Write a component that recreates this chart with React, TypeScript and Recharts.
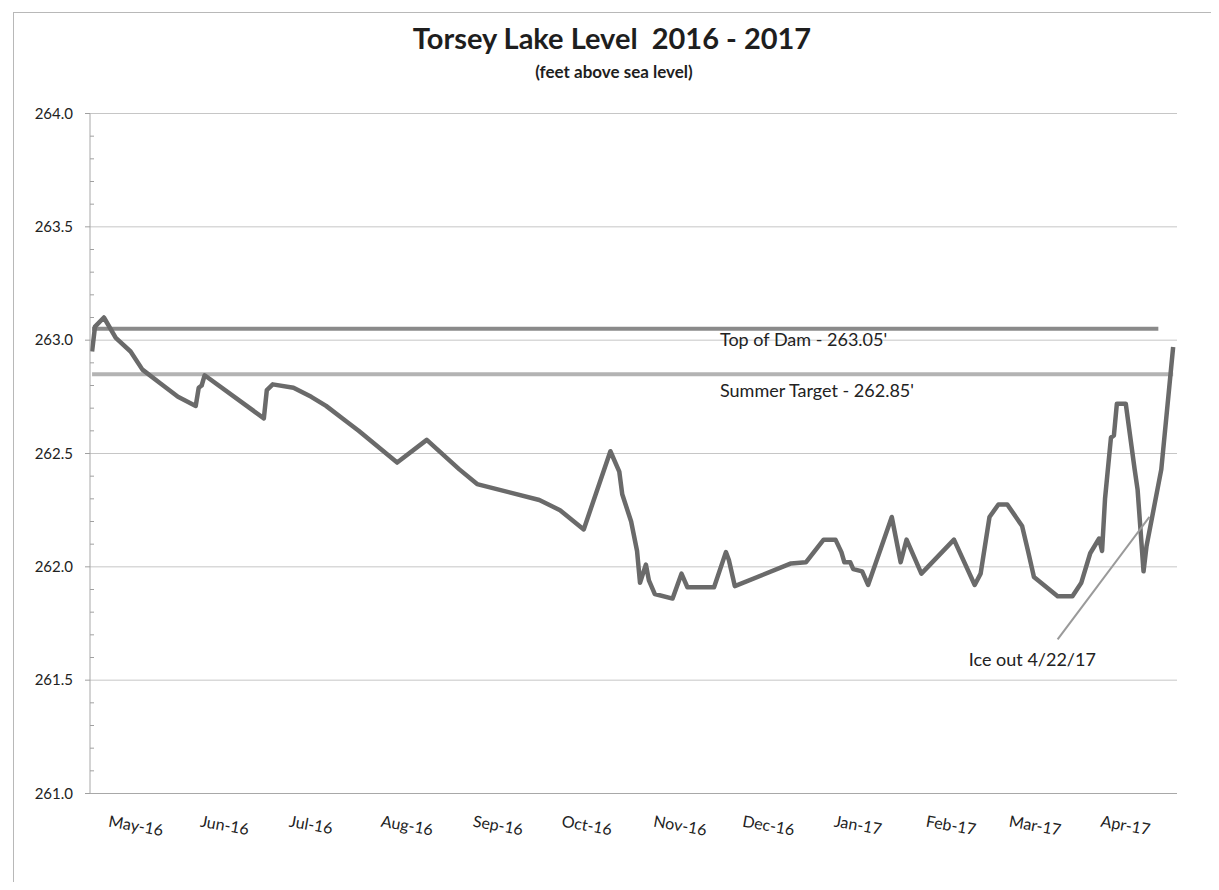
import React from 'react';
import {
  LineChart,
  Line,
  XAxis,
  YAxis,
  CartesianGrid,
  ReferenceLine,
  ReferenceDot,
} from 'recharts';

// Lake level readings (feet above sea level)
const levelDates = [
  '2016-04-25', '2016-04-26', '2016-04-29', '2016-05-03', '2016-05-08', '2016-05-12',
  '2016-05-18', '2016-05-24', '2016-05-30', '2016-05-31', '2016-06-01', '2016-06-02',
  '2016-06-22', '2016-06-23', '2016-06-25', '2016-07-02', '2016-07-08', '2016-07-13',
  '2016-07-20', '2016-07-24', '2016-08-06', '2016-08-16', '2016-08-27', '2016-09-02',
  '2016-09-23', '2016-09-30', '2016-10-08', '2016-10-17', '2016-10-20', '2016-10-21',
  '2016-10-24', '2016-10-26', '2016-10-27', '2016-10-29', '2016-10-30', '2016-11-01',
  '2016-11-07', '2016-11-10', '2016-11-12', '2016-11-21', '2016-11-25', '2016-11-26',
  '2016-11-28', '2016-12-17', '2016-12-22', '2016-12-28', '2017-01-01', '2017-01-03',
  '2017-01-04', '2017-01-06', '2017-01-07', '2017-01-10', '2017-01-12', '2017-01-20',
  '2017-01-23', '2017-01-25', '2017-01-30', '2017-02-10', '2017-02-17', '2017-02-19',
  '2017-02-22', '2017-02-25', '2017-02-28', '2017-03-05', '2017-03-07', '2017-03-09',
  '2017-03-17', '2017-03-22', '2017-03-25', '2017-03-28', '2017-03-31', '2017-04-01',
  '2017-04-02', '2017-04-04', '2017-04-05', '2017-04-06', '2017-04-09', '2017-04-12',
  '2017-04-13', '2017-04-15', '2017-04-16', '2017-04-21', '2017-04-25',
];
const levelValues = [
  262.95, 263.06, 263.10, 263.01, 262.95, 262.87,
  262.81, 262.75, 262.71, 262.79, 262.80, 262.845,
  262.655, 262.78, 262.805, 262.79, 262.75, 262.71,
  262.64, 262.60, 262.46, 262.56, 262.43, 262.365,
  262.295, 262.25, 262.165, 262.51, 262.42, 262.32,
  262.20, 262.07, 261.93, 262.01, 261.94, 261.88,
  261.86, 261.97, 261.91, 261.91, 262.065, 262.03,
  261.915, 262.015, 262.02, 262.12, 262.12, 262.065,
  262.02, 262.02, 261.99, 261.98, 261.92, 262.22,
  262.02, 262.12, 261.97, 262.12, 261.92, 261.97,
  262.22, 262.275, 262.275, 262.18, 262.07, 261.955,
  261.87, 261.87, 261.93, 262.06, 262.125, 262.07,
  262.30, 262.57, 262.58, 262.72, 262.72, 262.43,
  262.34, 261.98, 262.09, 262.43, 262.97,
];

// Top of dam and summer target lines
const damDates = ['2016-04-25', '2017-04-20'];
const damValues = [263.05, 263.05];
const targetDates = ['2016-04-25', '2017-04-25'];
const targetValues = [262.85, 262.85];

// Axis ticks
const monthTicks = [
  '2016-05-01', '2016-06-01', '2016-07-01', '2016-08-01', '2016-09-01', '2016-10-01',
  '2016-11-01', '2016-12-01', '2017-01-01', '2017-02-01', '2017-03-01', '2017-04-01',
];
const monthLabels = [
  'May-16', 'Jun-16', 'Jul-16', 'Aug-16', 'Sep-16', 'Oct-16',
  'Nov-16', 'Dec-16', 'Jan-17', 'Feb-17', 'Mar-17', 'Apr-17',
];
const yMajorTicks = [261.0, 261.5, 262.0, 262.5, 263.0, 263.5, 264.0];
const yAllTicks = Array.from({ length: 31 }, (_, i) => Number((261 + i * 0.1).toFixed(1)));

// Annotations
const damLabel = { date: '2016-11-23', value: 263.0, text: "Top of Dam - 263.05'" };
const targetLabel = { date: '2016-11-23', value: 262.775, text: "Summer Target - 262.85'" };
const iceLabel = { date: '2017-02-15', value: 261.59, text: 'Ice out 4/22/17' };
const iceArrowDates = ['2017-03-17', '2017-04-17'];
const iceArrowValues = [261.68, 262.22];

const FONT = 'Lato, "Open Sans", sans-serif';

const toDay = (s: string) => {
  const [y, m, d] = s.split('-').map(Number);
  return Date.UTC(y, m - 1, d) / 86400000;
};

const levelData = levelDates.map((d, i) => ({ day: toDay(d), level: levelValues[i] }));
const damData = damDates.map((d, i) => ({ day: toDay(d), level: damValues[i] }));
const targetData = targetDates.map((d, i) => ({ day: toDay(d), level: targetValues[i] }));
const tickDays = monthTicks.map(toDay);
const startDay = toDay('2016-04-25');

const YTick = (props: any) => {
  const { x, y, payload } = props;
  const v = payload.value;
  const major = Math.abs(v * 2 - Math.round(v * 2)) < 1e-6;
  const ax = x + 17;
  return (
    <g>
      {major ? (
        <line x1={ax - 5} x2={ax} y1={y} y2={y} stroke="#a0a0a0" />
      ) : (
        <line x1={ax} x2={ax + 4} y1={y} y2={y} stroke="#a0a0a0" />
      )}
      {major && (
        <text x={x} y={y} dy={5} textAnchor="end" fontFamily={FONT} fontSize={15} fill="#222">
          {v.toFixed(1)}
        </text>
      )}
    </g>
  );
};

const XTick = (props: any) => {
  const { x, y, payload } = props;
  const idx = tickDays.indexOf(payload.value);
  const label = idx >= 0 ? monthLabels[idx] : '';
  const tx = x - 2;
  const ty = y + 25;
  return (
    <text
      x={tx}
      y={ty}
      transform={`rotate(10, ${tx}, ${ty})`}
      textAnchor="start"
      fontFamily={FONT}
      fontSize={16}
      fill="#222"
    >
      {label}
    </text>
  );
};

const textShape = (text: string) => (p: any) => (
  <text x={p.cx} y={p.cy} dy={6} fontFamily={FONT} fontSize={18} fill="#222">
    {text}
  </text>
);

export default function App() {
  return (
    <div style={{ position: 'relative', width: 1203, height: 874, overflow: 'hidden' }}>
      <div
        style={{
          position: 'absolute',
          left: 5,
          top: 4,
          width: 1203,
          height: 920,
          border: '1px solid #b8b8b8',
          boxSizing: 'border-box',
        }}
      />
      <div
        style={{
          position: 'absolute',
          left: 0,
          width: 1208,
          top: 12,
          textAlign: 'center',
          fontFamily: FONT,
          fontWeight: 700,
          fontSize: 29,
          color: '#1e1e1e',
        }}
      >
        Torsey Lake Level&nbsp;&nbsp;2016 - 2017
      </div>
      <div
        style={{
          position: 'absolute',
          left: 0,
          width: 1212,
          top: 53,
          textAlign: 'center',
          fontFamily: FONT,
          fontWeight: 700,
          fontSize: 17,
          color: '#1e1e1e',
        }}
      >
        (feet above sea level)
      </div>
      <div style={{ position: 'absolute', left: 0, top: 0 }}>
        <LineChart
          width={1203}
          height={874}
          margin={{ top: 105.5, right: 34, bottom: 28.5, left: 0 }}
        >
          <CartesianGrid
            vertical={false}
            horizontalValues={yMajorTicks}
            stroke="#c6c6c6"
          />
          <XAxis
            dataKey="day"
            type="number"
            domain={[startDay - 0.7, startDay + 366.3]}
            ticks={tickDays}
            interval={0}
            tick={<XTick />}
            tickLine={false}
            axisLine={{ stroke: '#a8a8a8' }}
            height={60}
            allowDataOverflow
          />
          <YAxis
            type="number"
            domain={[261, 264]}
            ticks={yAllTicks}
            interval={0}
            tick={<YTick />}
            tickLine={false}
            tickSize={5}
            tickMargin={12}
            axisLine={{ stroke: '#a8a8a8' }}
            width={82}
            allowDataOverflow
          />
          <Line
            data={targetData}
            dataKey="level"
            type="linear"
            stroke="#b3b3b3"
            strokeWidth={4}
            dot={false}
            activeDot={false}
            isAnimationActive={false}
          />
          <Line
            data={damData}
            dataKey="level"
            type="linear"
            stroke="#8a8a8a"
            strokeWidth={4}
            dot={false}
            activeDot={false}
            isAnimationActive={false}
          />
          <Line
            data={levelData}
            dataKey="level"
            type="linear"
            stroke="#6a6a6a"
            strokeWidth={4.5}
            strokeLinejoin="round"
            dot={false}
            activeDot={false}
            isAnimationActive={false}
          />
          <ReferenceLine
            segment={[
              { x: toDay(iceArrowDates[0]), y: iceArrowValues[0] },
              { x: toDay(iceArrowDates[1]), y: iceArrowValues[1] },
            ]}
            stroke="#9a9a9a"
            strokeWidth={2}
          />
          <ReferenceDot
            x={toDay(damLabel.date)}
            y={damLabel.value}
            r={0}
            shape={textShape(damLabel.text)}
          />
          <ReferenceDot
            x={toDay(targetLabel.date)}
            y={targetLabel.value}
            r={0}
            shape={textShape(targetLabel.text)}
          />
          <ReferenceDot
            x={toDay(iceLabel.date)}
            y={iceLabel.value}
            r={0}
            shape={textShape(iceLabel.text)}
          />
        </LineChart>
      </div>
    </div>
  );
}
